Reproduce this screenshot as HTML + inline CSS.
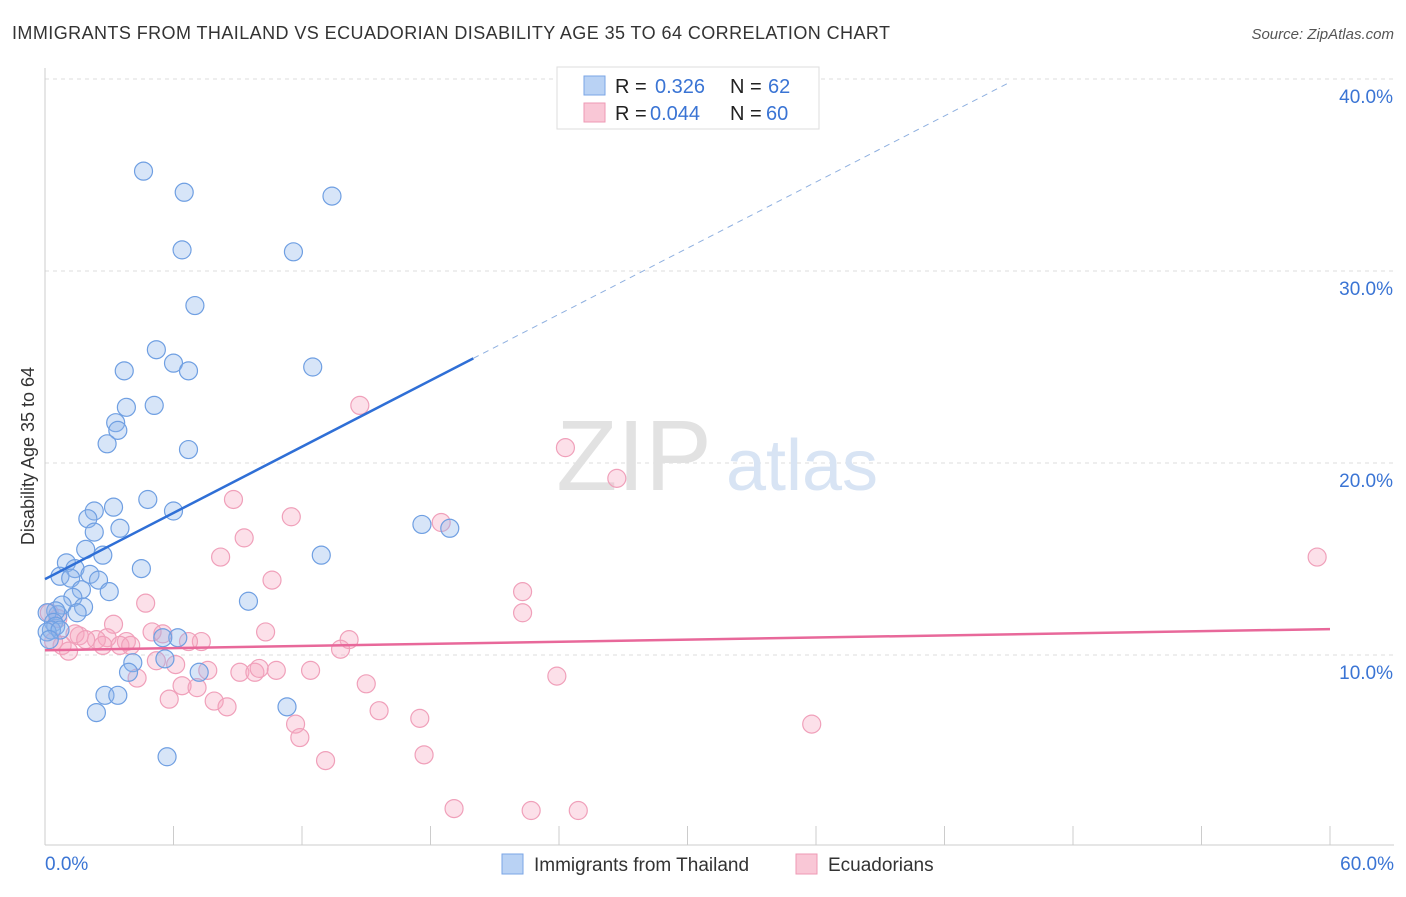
<!DOCTYPE html>
<html><head><meta charset="utf-8"><style>
body{margin:0;background:#fff;font-family:"Liberation Sans",sans-serif;}
svg text{font-family:"Liberation Sans",sans-serif;}
</style></head><body>
<svg id="chart" width="1406" height="892">
<text x="12" y="39" font-size="18" fill="#333" textLength="878" lengthAdjust="spacing">IMMIGRANTS FROM THAILAND VS ECUADORIAN DISABILITY AGE 35 TO 64 CORRELATION CHART</text>
<text x="1394" y="39" font-size="15" fill="#555" font-style="italic" text-anchor="end">Source: ZipAtlas.com</text>
<g id="grid"></g>
<text x="634" y="490" font-size="100" fill="#e2e2e2" font-family="Liberation Serif" text-anchor="middle">ZIP</text>
<text x="802" y="490" font-size="72" fill="#d8e4f4" text-anchor="middle">atlas</text>
<g id="marks"></g>
<text x="34" y="456" font-size="18" fill="#333" text-anchor="middle" transform="rotate(-90 34 456)">Disability Age 35 to 64</text>
<g>
<rect x="557" y="67" width="262" height="62" fill="#fff" stroke="#ddd"/>
<rect x="584" y="76" width="21" height="19" fill="#b9d2f4" stroke="#7aa5e6"/>
<rect x="584" y="103" width="21" height="19" fill="#f9c7d6" stroke="#ee9ab4"/>
<text x="615" y="93" font-size="20" fill="#222">R = </text><text x="655" y="93" font-size="20" fill="#3a74d4">0.326</text>
<text x="730" y="93" font-size="20" fill="#222">N = </text><text x="768" y="93" font-size="20" fill="#3a74d4">62</text>
<text x="615" y="120" font-size="20" fill="#222">R = </text><text x="650" y="120" font-size="20" fill="#3a74d4">0.044</text>
<text x="730" y="120" font-size="20" fill="#222">N = </text><text x="766" y="120" font-size="20" fill="#3a74d4">60</text>
</g>
<g>
<rect x="502" y="854" width="21" height="20" fill="#b9d2f4" stroke="#7aa5e6"/>
<text x="534" y="871" font-size="19" fill="#333">Immigrants from Thailand</text>
<rect x="796" y="854" width="21" height="20" fill="#f9c7d6" stroke="#ee9ab4"/>
<text x="828" y="871" font-size="19" fill="#333">Ecuadorians</text>
</g>
</svg>
<script>
const xTicks=[0,6,12,18,24,30,36,42,48,54,60];
const yTicks=[10,20,30,40];
const blueX=[4.6,6.5,13.4,6.4,11.6,7.0,5.2,6.0,6.7,12.5,3.7,3.8,5.1,3.3,3.4,2.9,6.7,4.8,3.2,6.0,2.3,2.0,3.5,2.3,17.6,18.9,1.9,2.7,12.9,1.0,4.5,1.4,2.1,0.7,1.2,2.5,3.0,1.7,1.3,0.8,1.8,1.5,0.6,0.5,9.5,0.1,0.4,0.5,0.3,0.1,0.7,6.2,5.5,0.2,5.6,4.1,3.9,7.2,2.8,3.4,2.4,11.3,5.7];
const blueY=[35.2,34.1,33.9,31.1,31.0,28.2,25.9,25.2,24.8,25.0,24.8,22.9,23.0,22.1,21.7,21.0,20.7,18.1,17.7,17.5,17.5,17.1,16.6,16.4,16.8,16.6,15.5,15.2,15.2,14.8,14.5,14.5,14.2,14.1,14.0,13.9,13.3,13.4,13.0,12.6,12.5,12.2,12.1,12.3,12.8,12.2,11.7,11.5,11.3,11.2,11.3,10.9,10.9,10.8,9.8,9.6,9.1,9.1,7.9,7.9,7.0,7.3,4.7];
const pinkX=[14.7,24.3,26.7,8.8,11.5,18.5,9.3,8.2,10.6,22.3,22.3,4.7,3.2,5.0,5.5,10.3,14.2,13.8,7.3,6.7,3.8,2.9,2.4,1.6,1.4,0.6,0.2,0.8,1.1,1.9,2.7,3.5,4.0,0.4,5.2,6.1,7.6,9.1,9.8,10.0,10.8,12.4,4.3,23.9,15.0,6.4,7.1,5.8,7.9,8.5,15.6,17.5,11.7,35.8,11.9,17.7,13.1,19.1,22.7,24.9,59.4];
const pinkY=[23.0,20.8,19.2,18.1,17.2,16.9,16.1,15.1,13.9,13.3,12.2,12.7,11.6,11.2,11.1,11.2,10.8,10.3,10.7,10.7,10.7,10.9,10.8,11.0,11.1,11.9,12.2,10.5,10.2,10.8,10.5,10.5,10.5,10.7,9.7,9.5,9.2,9.1,9.1,9.3,9.2,9.2,8.8,8.9,8.5,8.4,8.3,7.7,7.6,7.3,7.1,6.7,6.4,6.4,5.7,4.8,4.5,2.0,1.9,1.9,15.1];
const blueTrend=[[0,13.95],[20,25.45],[45,39.8]];
const pinkTrend=[[0,10.25],[60,11.35]];
const xs=v=>45+v*(1285/60);
const ys=v=>655-(v-10)*19.2;
const NS="http://www.w3.org/2000/svg";
const grid=document.getElementById('grid'), marks=document.getElementById('marks');
function mk(tag,attrs,parent){const e=document.createElementNS(NS,tag);for(const k in attrs)e.setAttribute(k,attrs[k]);parent.appendChild(e);return e;}
yTicks.forEach(t=>{
  const l=mk('line',{x1:45,x2:1394,y1:ys(t),y2:ys(t),stroke:'#ddd','stroke-dasharray':'4,4'},grid);
  
  
  const tx=mk('text',{x:1393,y:ys(t)+24,'font-size':19,fill:'#3a74d4','text-anchor':'end'},grid);
  tx.textContent=t.toFixed(1)+'%';
  
  
});
mk('line',{x1:45,x2:45,y1:68,y2:845,stroke:'#ccc'},grid);
mk('line',{x1:45,x2:1394,y1:845,y2:845,stroke:'#ccc'},grid);
xTicks.forEach(t=>{
  const l=mk('line',{x1:xs(t),x2:xs(t),y1:826,y2:845,stroke:'#ccc'},grid);
  
  
});
[[0,45,'start'],[60,1394,'end']].forEach(([v,x,a])=>{
  const tx=mk('text',{x:x,y:870,'font-size':19,fill:'#3a74d4','text-anchor':a},grid);
  tx.textContent=v.toFixed(1)+'%';
  
  
});
pinkX.forEach((x,i)=>{
  const c=mk('circle',{cx:xs(x),cy:ys(pinkY[i]),r:9,fill:'rgba(246,167,192,0.35)',stroke:'#f0a0ba','stroke-width':1.2},marks);
  
  
});
blueX.forEach((x,i)=>{
  const c=mk('circle',{cx:xs(x),cy:ys(blueY[i]),r:9,fill:'rgba(140,180,236,0.35)',stroke:'#6f9fe2','stroke-width':1.2},marks);
  
  
});
let l1=mk('line',{x1:xs(blueTrend[0][0]),y1:ys(blueTrend[0][1]),x2:xs(blueTrend[1][0]),y2:ys(blueTrend[1][1]),stroke:'#2f6fd6','stroke-width':2.5},marks);


let l2=mk('line',{x1:xs(blueTrend[1][0]),y1:ys(blueTrend[1][1]),x2:xs(blueTrend[2][0]),y2:ys(blueTrend[2][1]),stroke:'#8fb0e0','stroke-width':1,'stroke-dasharray':'6,5'},marks);


let l3=mk('line',{x1:xs(pinkTrend[0][0]),y1:ys(pinkTrend[0][1]),x2:xs(pinkTrend[1][0]),y2:ys(pinkTrend[1][1]),stroke:'#e8689a','stroke-width':2.5},marks);


</script>
</body></html>
